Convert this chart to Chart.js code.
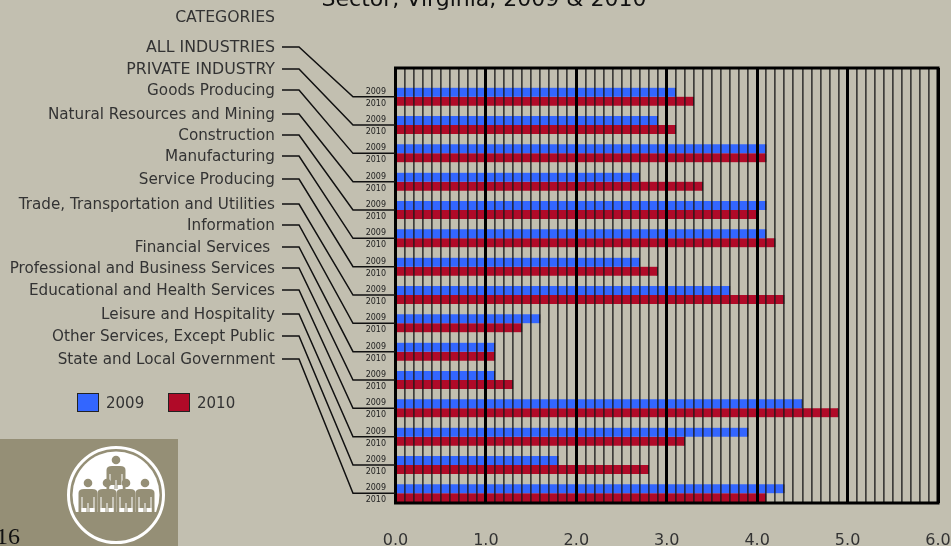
<!DOCTYPE html>
<html>
<head>
<meta charset="utf-8">
<title>Sector, Virginia, 2009 & 2010</title>
<script src="https://cdn.jsdelivr.net/npm/chart.js@4"></script>
<style>
html, body { margin: 0; padding: 0; background: #c2bfb0; overflow: hidden; }
canvas { display: block; }
</style>
</head>
<body>
<canvas id="myChart" width="951" height="546"></canvas>
<script>
const categories = ["ALL INDUSTRIES", "PRIVATE INDUSTRY", "Goods Producing", "Natural Resources and Mining",
  "Construction", "Manufacturing", "Service Producing", "Trade, Transportation and Utilities", "Information",
  "Financial Services ", "Professional and Business Services", "Educational and Health Services",
  "Leisure and Hospitality", "Other Services, Except Public", "State and Local Government"];
const values2009 = [3.1, 2.9, 4.1, 2.7, 4.1, 4.1, 2.7, 3.7, 1.6, 1.1, 1.1, 4.5, 3.9, 1.8, 4.3];
const values2010 = [3.3, 3.1, 4.1, 3.4, 4.0, 4.2, 2.9, 4.3, 1.4, 1.1, 1.3, 4.9, 3.2, 2.8, 4.1];
const seriesNames = ["2009", "2010"];
const titleText = "Sector, Virginia, 2009 & 2010";
const pageNumber = "16";

// left hand label column
const labelY = [47, 69, 90, 114, 135, 156, 179, 204, 225, 247, 268, 290, 314, 336, 359];

const BG = "#c2bfb0", BLUE = "#3366ff", RED = "#b00a28", TAN = "#958f76", INK = "#333";

function toPoints(list){
  return list.map(function(v, i){ return {x: v, y: i}; });
}

function person(ctx, x, y){
  ctx.fillStyle = TAN;
  ctx.beginPath();
  ctx.arc(x, y - 15, 4.3, 0, Math.PI*2);
  ctx.fill();
  ctx.beginPath();
  ctx.moveTo(x - 9.5, y + 14);
  ctx.lineTo(x - 9.5, y - 5);
  ctx.quadraticCurveTo(x - 9.5, y - 9, x - 4, y - 9);
  ctx.lineTo(x + 4, y - 9);
  ctx.quadraticCurveTo(x + 9.5, y - 9, x + 9.5, y - 5);
  ctx.lineTo(x + 9.5, y + 14);
  ctx.closePath();
  ctx.fill();
  // arm and leg slits
  ctx.fillStyle = "#fff";
  ctx.fillRect(x - 6.5, y - 1, 1, 15);
  ctx.fillRect(x + 5.5, y - 1, 1, 15);
  ctx.fillRect(x - 0.5, y + 5, 1, 9);
  ctx.fillRect(x - 6.5, y + 10, 5, 4);
  ctx.fillRect(x + 1.5, y + 10, 5, 4);
}

const decorations = {
  id: "decorations",
  beforeDraw: function(chart){
    const ctx = chart.ctx;
    ctx.save();
    ctx.fillStyle = BG;
    ctx.fillRect(0, 0, chart.width, chart.height);
    // logo block
    ctx.fillStyle = TAN;
    ctx.fillRect(0, 439, 178, 107);
    ctx.strokeStyle = "#fff";
    ctx.lineWidth = 3;
    ctx.beginPath();
    ctx.arc(116, 495, 47.5, 0, Math.PI*2);
    ctx.stroke();
    ctx.save();
    ctx.beginPath();
    ctx.rect(60, 440, 112, 72);
    ctx.clip();
    ctx.fillStyle = "#fff";
    ctx.beginPath();
    ctx.arc(116, 495, 43.5, 0, Math.PI*2);
    ctx.fill();
    ctx.restore();
    person(ctx, 116, 475);
    person(ctx, 88, 498);
    person(ctx, 107, 498);
    person(ctx, 126, 498);
    person(ctx, 145, 498);
    ctx.fillStyle = "#111";
    ctx.font = "24px 'Liberation Serif'";
    ctx.textAlign = "left";
    ctx.textBaseline = "alphabetic";
    ctx.fillText(pageNumber, -4, 544);
    ctx.restore();
  },
  afterDraw: function(chart){
    const ctx = chart.ctx, area = chart.chartArea, yScale = chart.scales.y;
    ctx.save();
    // frame
    ctx.strokeStyle = "#000";
    ctx.lineWidth = 3;
    ctx.strokeRect(area.left, area.top, area.right - area.left, area.bottom - area.top);
    // title, cut by the top edge like the source
    ctx.fillStyle = "#111";
    ctx.textBaseline = "alphabetic";
    ctx.textAlign = "center";
    ctx.font = "22px 'DejaVu Sans'";
    ctx.fillText(titleText, 484, 6);
    ctx.fillStyle = INK;
    ctx.textAlign = "right";
    ctx.font = "15.7px 'DejaVu Sans'";
    ctx.fillText("CATEGORIES", 275, 22);
    // row labels and leader lines
    categories.forEach(function(name, i){
      const y = labelY[i], rowY = yScale.getPixelForValue(i);
      const caps = name === name.toUpperCase();
      ctx.fillStyle = INK;
      ctx.font = (caps ? "15.8px" : "15.2px") + " 'DejaVu Sans'";
      ctx.textAlign = "right";
      ctx.fillText(name, 275, y + 5);
      ctx.strokeStyle = "#111";
      ctx.lineWidth = 1.5;
      ctx.beginPath();
      ctx.moveTo(282, y);
      ctx.lineTo(299, y);
      ctx.lineTo(353, rowY);
      ctx.lineTo(area.left, rowY);
      ctx.stroke();
      ctx.fillStyle = "#222";
      ctx.font = "8px 'DejaVu Sans'";
      ctx.fillText(seriesNames[0], 386, rowY - 3);
      ctx.fillText(seriesNames[1], 386, rowY + 9);
    });
    // legend
    ctx.font = "15px 'DejaVu Sans'";
    ctx.textAlign = "left";
    [[77, 106], [168, 197]].forEach(function(p, i){
      ctx.fillStyle = chart.data.datasets[i].backgroundColor;
      ctx.strokeStyle = "#222";
      ctx.lineWidth = 1;
      ctx.fillRect(p[0], 393, 21, 18);
      ctx.strokeRect(p[0] + 0.5, 393.5, 21, 18);
      ctx.fillStyle = INK;
      ctx.fillText(chart.data.datasets[i].label, p[1], 408);
    });
    ctx.restore();
  }
};

new Chart(document.getElementById("myChart"), {
  type: "bar",
  data: {
    datasets: [
      {label: seriesNames[0], data: toPoints(values2009), backgroundColor: BLUE, borderColor: "#1a1a2a", borderWidth: {right: 1}, borderSkipped: false, barThickness: 9},
      {label: seriesNames[1], data: toPoints(values2010), backgroundColor: RED, borderColor: "#2a1a1a", borderWidth: {right: 1}, borderSkipped: false, barThickness: 9}
    ]
  },
  options: {
    indexAxis: "y",
    responsive: false,
    animation: false,
    layout: {padding: {left: 395.5, right: 13, top: 68, bottom: 0}},
    plugins: {legend: {display: false}, tooltip: {enabled: false}},
    scales: {
      y: {
        type: "linear",
        reverse: true,
        offset: false,
        min: -1.013,
        max: 14.34,
        display: false,
        grid: {display: false, offset: false}
      },
      x: {
        type: "linear",
        min: 0,
        max: 6,
        position: "bottom",
        afterFit: function(s){ s.height = 43; s.paddingLeft = 0; s.paddingRight = 0; },
        border: {display: false},
        grid: {
          z: 1,
          drawTicks: false,
          color: function(c){ return Number.isInteger(Math.round(c.tick.value*1000)/1000) ? "#000" : "rgba(25,25,25,0.78)"; },
          lineWidth: function(c){ return Number.isInteger(Math.round(c.tick.value*1000)/1000) ? 3 : 1.7; }
        },
        ticks: {
          stepSize: 0.1,
          autoSkip: false,
          maxRotation: 0,
          padding: 28,
          color: INK,
          font: {family: "'DejaVu Sans'", size: 16},
          callback: function(v){
            const r = Math.round(v*1000)/1000;
            return Number.isInteger(r) ? r.toFixed(1) : "";
          }
        }
      }
    }
  },
  plugins: [decorations]
});
</script>
</body>
</html>
